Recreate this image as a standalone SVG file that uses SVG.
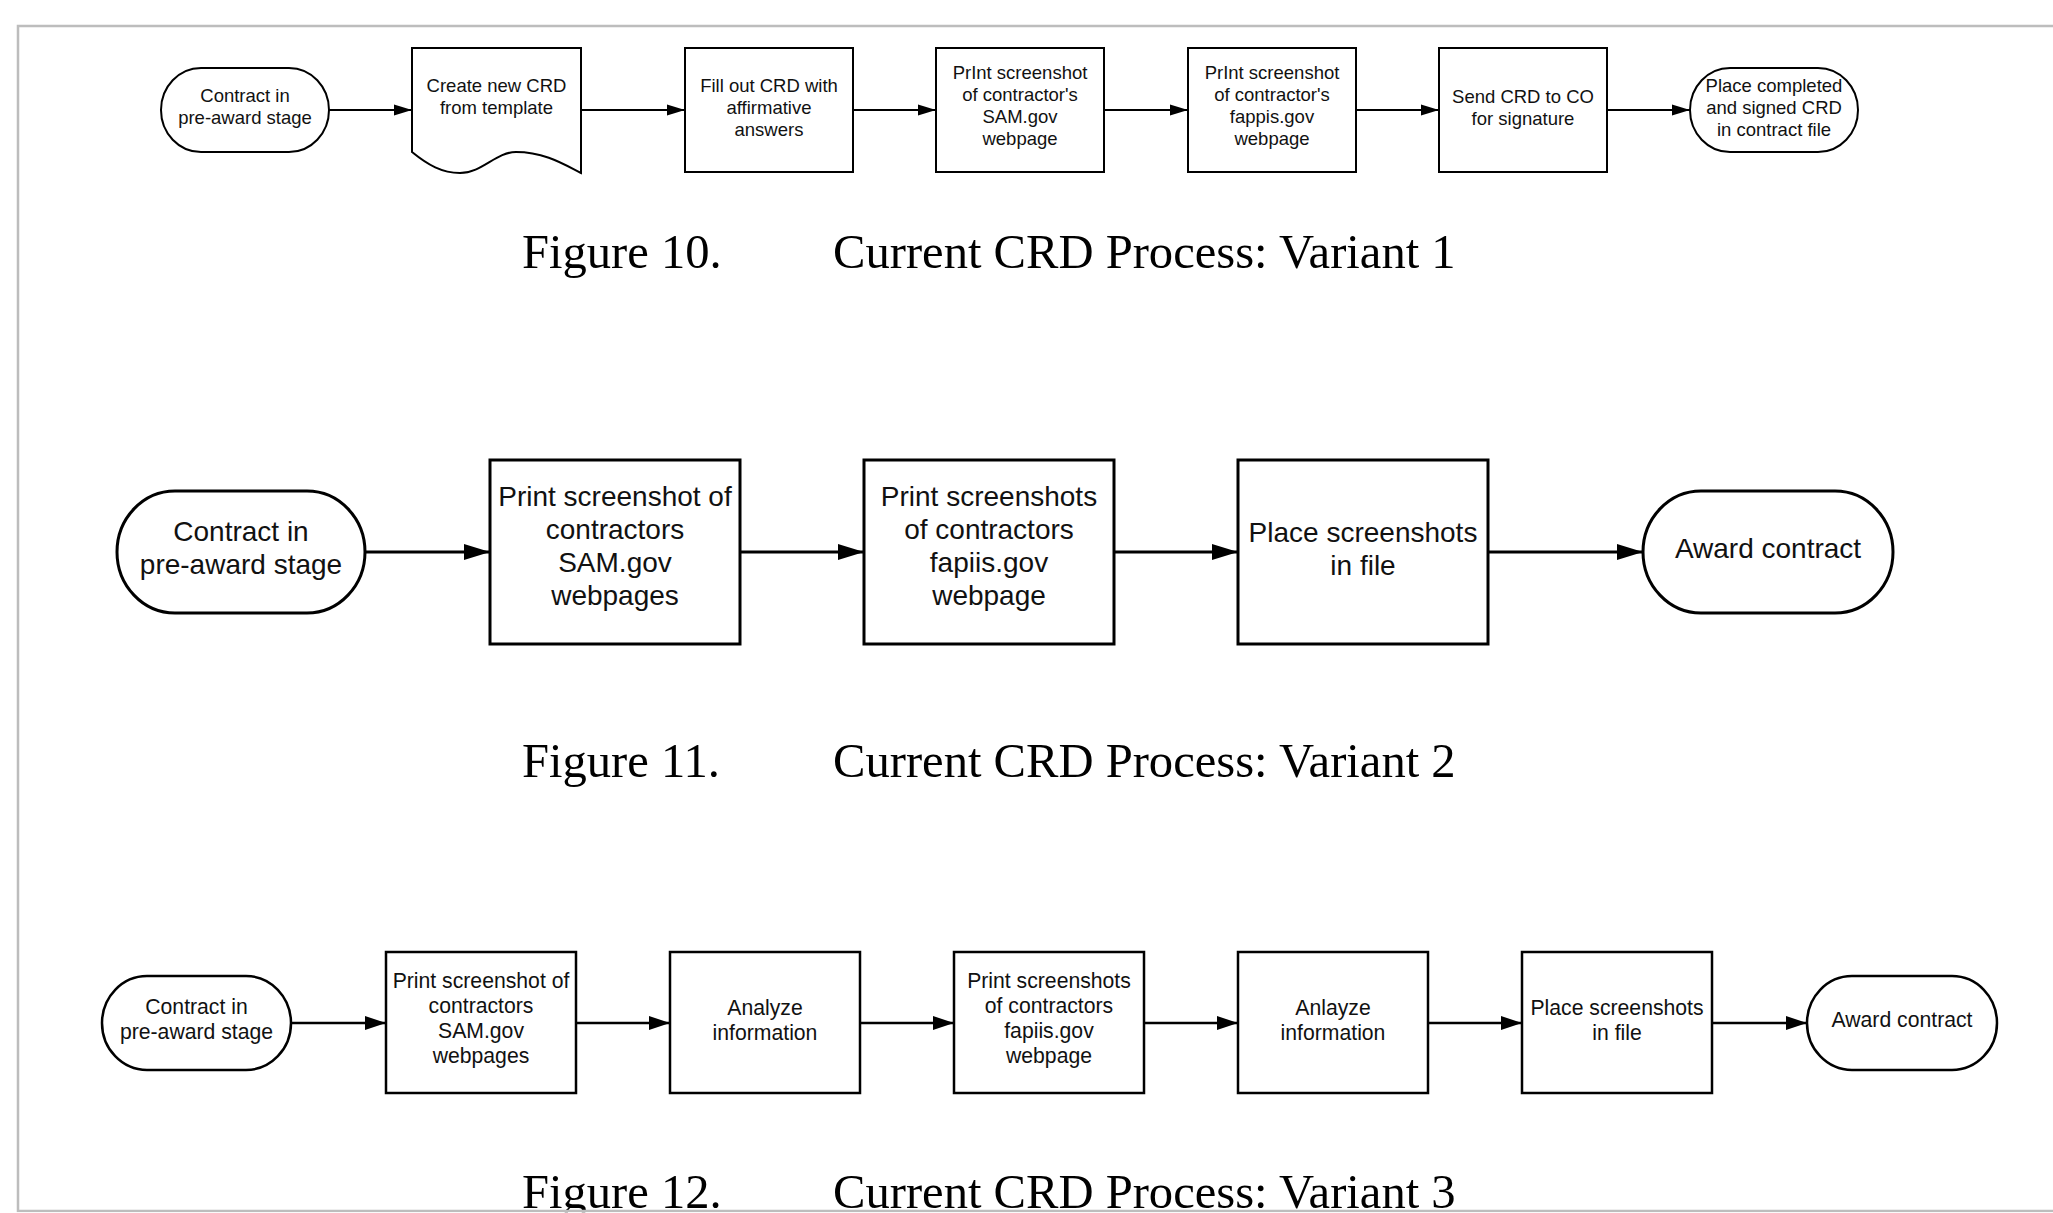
<svg xmlns="http://www.w3.org/2000/svg" width="2053" height="1213" viewBox="0 0 2053 1213">
<style>
.bg{fill:#ffffff}
.n1{fill:#fff;stroke:#000;stroke-width:2}
.n2{fill:#fff;stroke:#000;stroke-width:3}
.n3{fill:#fff;stroke:#000;stroke-width:2.5}
.t{font-family:"Liberation Sans",Arial,sans-serif;fill:#111;text-anchor:middle}
.t1{font-size:18.5px}
.t2{font-size:28px}
.t3{font-size:21.2px}
.cap{font-family:"Liberation Serif","Times New Roman",serif;font-size:48.6px;fill:#000}
.e1{stroke:#000;stroke-width:2;fill:none;marker-end:url(#a1)}
.e2{stroke:#000;stroke-width:3;fill:none;marker-end:url(#a2)}
.e3{stroke:#000;stroke-width:2.5;fill:none;marker-end:url(#a3)}
.frame{fill:none;stroke:#bdbdbd;stroke-width:2.5}
</style>
<defs>
<marker id="a1" markerUnits="userSpaceOnUse" markerWidth="20" markerHeight="14" refX="18" refY="6" orient="auto"><path d="M0,0.5 L18,6 L0,11.5 Z" fill="#000"/></marker>
<marker id="a2" markerUnits="userSpaceOnUse" markerWidth="28" markerHeight="18" refX="26" refY="8.5" orient="auto"><path d="M0,0.5 L26,8.5 L0,16.5 Z" fill="#000"/></marker>
<marker id="a3" markerUnits="userSpaceOnUse" markerWidth="23" markerHeight="16" refX="21" refY="7.5" orient="auto"><path d="M0,0.5 L21,7.5 L0,14.5 Z" fill="#000"/></marker>
</defs>
<rect class="bg" x="0" y="0" width="2053" height="1213"/>

<!-- Figure 10 -->
<g id="f10-start"><rect class="n1" x="161" y="68" width="168" height="84" rx="40" ry="42"/>
<text class="t t1" x="245" y="102">Contract in</text><text class="t t1" x="245" y="124">pre-award stage</text></g>
<g id="f10-create"><path class="n1" d="M412,48 H581 V173 C565,165 545,152 516,152 C496,152 482,173 460,173 C442,173 428,165 412,152 Z"/>
<text class="t t1" x="496.5" y="92">Create new CRD</text><text class="t t1" x="496.5" y="114">from template</text></g>
<g id="f10-fill"><rect class="n1" x="685" y="48" width="168" height="124"/>
<text class="t t1" x="769" y="92">Fill out CRD with</text><text class="t t1" x="769" y="114">affirmative</text><text class="t t1" x="769" y="136">answers</text></g>
<g id="f10-sam"><rect class="n1" x="936" y="48" width="168" height="124"/>
<text class="t t1" x="1020" y="79">PrInt screenshot</text><text class="t t1" x="1020" y="101">of contractor's</text><text class="t t1" x="1020" y="123">SAM.gov</text><text class="t t1" x="1020" y="145">webpage</text></g>
<g id="f10-fappis"><rect class="n1" x="1188" y="48" width="168" height="124"/>
<text class="t t1" x="1272" y="79">PrInt screenshot</text><text class="t t1" x="1272" y="101">of contractor's</text><text class="t t1" x="1272" y="123">fappis.gov</text><text class="t t1" x="1272" y="145">webpage</text></g>
<g id="f10-send"><rect class="n1" x="1439" y="48" width="168" height="124"/>
<text class="t t1" x="1523" y="103">Send CRD to CO</text><text class="t t1" x="1523" y="125">for signature</text></g>
<g id="f10-end"><rect class="n1" x="1690" y="68" width="168" height="84" rx="40" ry="42"/>
<text class="t t1" x="1774" y="92">Place completed</text><text class="t t1" x="1774" y="114">and signed CRD</text><text class="t t1" x="1774" y="136">in contract file</text></g>
<text class="cap" x="522" y="268">Figure 10.</text>
<text class="cap" x="833" y="268">Current CRD Process: Variant 1</text>

<!-- Figure 11 -->
<g id="f11-start"><rect class="n2" x="117" y="491" width="248" height="122" rx="58" ry="61"/>
<text class="t t2" x="241" y="541">Contract in</text><text class="t t2" x="241" y="574">pre-award stage</text></g>
<g id="f11-sam"><rect class="n2" x="490" y="460" width="250" height="184"/>
<text class="t t2" x="615" y="506">Print screenshot of</text><text class="t t2" x="615" y="539">contractors</text><text class="t t2" x="615" y="572">SAM.gov</text><text class="t t2" x="615" y="605">webpages</text></g>
<g id="f11-fapiis"><rect class="n2" x="864" y="460" width="250" height="184"/>
<text class="t t2" x="989" y="506">Print screenshots</text><text class="t t2" x="989" y="539">of contractors</text><text class="t t2" x="989" y="572">fapiis.gov</text><text class="t t2" x="989" y="605">webpage</text></g>
<g id="f11-place"><rect class="n2" x="1238" y="460" width="250" height="184"/>
<text class="t t2" x="1363" y="542">Place screenshots</text><text class="t t2" x="1363" y="575">in file</text></g>
<g id="f11-end"><rect class="n2" x="1643" y="491" width="250" height="122" rx="58" ry="61"/>
<text class="t t2" x="1768" y="558">Award contract</text></g>
<text class="cap" x="522" y="777">Figure 11.</text>
<text class="cap" x="833" y="777">Current CRD Process: Variant 2</text>

<!-- Figure 12 -->
<g id="f12-start"><rect class="n3" x="102" y="976" width="189" height="94" rx="45" ry="47"/>
<text class="t t3" x="196.5" y="1014">Contract in</text><text class="t t3" x="196.5" y="1039">pre-award stage</text></g>
<g id="f12-sam"><rect class="n3" x="386" y="952" width="190" height="141"/>
<text class="t t3" x="481" y="988">Print screenshot of</text><text class="t t3" x="481" y="1013">contractors</text><text class="t t3" x="481" y="1038">SAM.gov</text><text class="t t3" x="481" y="1063">webpages</text></g>
<g id="f12-analyze1"><rect class="n3" x="670" y="952" width="190" height="141"/>
<text class="t t3" x="765" y="1015">Analyze</text><text class="t t3" x="765" y="1040">information</text></g>
<g id="f12-fapiis"><rect class="n3" x="954" y="952" width="190" height="141"/>
<text class="t t3" x="1049" y="988">Print screenshots</text><text class="t t3" x="1049" y="1013">of contractors</text><text class="t t3" x="1049" y="1038">fapiis.gov</text><text class="t t3" x="1049" y="1063">webpage</text></g>
<g id="f12-analyze2"><rect class="n3" x="1238" y="952" width="190" height="141"/>
<text class="t t3" x="1333" y="1015">Anlayze</text><text class="t t3" x="1333" y="1040">information</text></g>
<g id="f12-place"><rect class="n3" x="1522" y="952" width="190" height="141"/>
<text class="t t3" x="1617" y="1015">Place screenshots</text><text class="t t3" x="1617" y="1040">in file</text></g>
<g id="f12-end"><rect class="n3" x="1807" y="976" width="190" height="94" rx="45" ry="47"/>
<text class="t t3" x="1902" y="1027">Award contract</text></g>
<text class="cap" x="522" y="1208">Figure 12.</text>
<text class="cap" x="833" y="1208">Current CRD Process: Variant 3</text>

<g id="connectors">
<path class="e1" d="M329,110 H412"/>
<path class="e1" d="M581,110 H685"/>
<path class="e1" d="M853,110 H936"/>
<path class="e1" d="M1104,110 H1188"/>
<path class="e1" d="M1356,110 H1439"/>
<path class="e1" d="M1607,110 H1690"/>
<path class="e2" d="M365,552 H490"/>
<path class="e2" d="M740,552 H864"/>
<path class="e2" d="M1114,552 H1238"/>
<path class="e2" d="M1488,552 H1643"/>
<path class="e3" d="M291,1023 H386"/>
<path class="e3" d="M576,1023 H670"/>
<path class="e3" d="M860,1023 H954"/>
<path class="e3" d="M1144,1023 H1238"/>
<path class="e3" d="M1428,1023 H1522"/>
<path class="e3" d="M1712,1023 H1807"/>
</g>
<path class="frame" d="M2053,26 H18 V1211 H2053"/>
<rect x="0" y="1212.3" width="2053" height="1" fill="#fff"/>
</svg>
